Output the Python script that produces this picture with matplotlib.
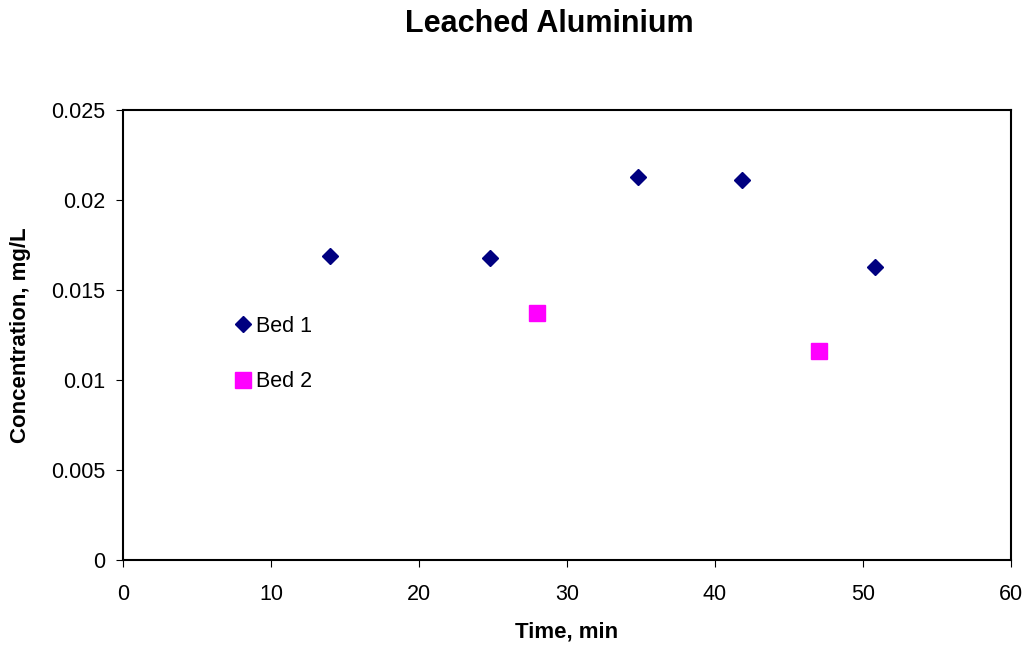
import matplotlib
matplotlib.use("Agg")
import matplotlib.pyplot as plt

plt.rcParams['font.family'] = ['Liberation Sans', 'DejaVu Sans']

# data
bed1_time = [14, 24.8, 34.8, 41.8, 50.8]
bed1_conc = [0.0169, 0.0168, 0.0213, 0.0211, 0.0163]
bed2_time = [28, 47]
bed2_conc = [0.0137, 0.0116]

fig = plt.figure(figsize=(10.31, 6.53), dpi=100)
ax = fig.add_axes([0.1193, 0.1424, 0.8613, 0.6891])

ax.plot(bed1_time, bed1_conc, linestyle='none', marker='D', markersize=8,
        color='#000080', label='Bed 1')
ax.plot(bed2_time, bed2_conc, linestyle='none', marker='s', markersize=11,
        color='#FF00FF', label='Bed 2')

ax.set_xlim(0, 60)
ax.set_ylim(0, 0.025)
ax.set_xticks(range(0, 61, 10))
ax.set_yticks([0, 0.005, 0.01, 0.015, 0.02, 0.025])
ax.set_yticklabels(['0', '0.005', '0.01', '0.015', '0.02', '0.025'])
for s in ax.spines.values():
    s.set_linewidth(1.5)
ax.tick_params(labelsize=15.5, direction='out', length=5, width=0.8)
ax.tick_params(axis='x', pad=12)
ax.tick_params(axis='y', pad=8)

ax.set_xlabel('Time, min', fontsize=16, fontweight='bold', labelpad=12)
ax.set_ylabel('Concentration, mg/L', fontsize=16, fontweight='bold', labelpad=14)
fig.text(0.533, 0.963, 'Leached Aluminium', fontsize=22, fontweight='bold',
         ha='center', va='center')

ax.legend(loc='center left', bbox_to_anchor=(0.1228, 0.458), frameon=False,
          fontsize=15.5, handletextpad=0.1, labelspacing=1.6, handlelength=1.0,
          borderaxespad=0, borderpad=0)

fig.savefig('out.png', dpi=100)
